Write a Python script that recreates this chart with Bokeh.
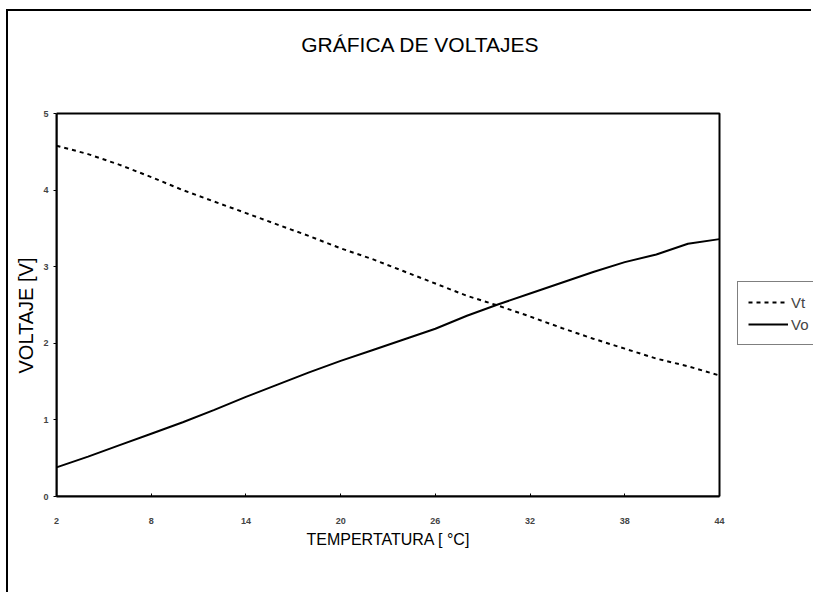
from bokeh.plotting import figure
from bokeh.models import Legend, LegendItem, FixedTicker, Range1d, BoxAnnotation, Title, Label
from bokeh.embed import file_html
from bokeh.resources import INLINE

# ---- data ----
temperatura = [2, 4, 6, 8, 10, 12, 14, 16, 18, 20, 22, 24, 26, 28, 30, 32, 34, 36, 38, 40, 42, 44]
vt = [4.58, 4.47, 4.33, 4.17, 4.00, 3.85, 3.70, 3.55, 3.40, 3.24, 3.10, 2.94,
      2.78, 2.62, 2.49, 2.35, 2.20, 2.06, 1.93, 1.80, 1.70, 1.58]
vo = [0.38, 0.52, 0.67, 0.82, 0.97, 1.13, 1.30, 1.46, 1.62, 1.77, 1.91, 2.05,
      2.19, 2.36, 2.51, 2.65, 2.79, 2.93, 3.06, 3.16, 3.30, 3.36]
x_ticks = [2, 8, 14, 20, 26, 32, 38, 44]
y_ticks = [0, 1, 2, 3, 4, 5]
title_text = "GRÁFICA DE VOLTAJES"
x_title = "TEMPERTATURA [ °C]"
y_title = "VOLTAJE [V]"

FONT = "Liberation Sans"

# ---- layout (pixels) ----
W, H = 805, 583
LEFT, BOTTOM = 48, 98
PLOT_W, PLOT_H = 663, 383      # size of the data box (2..44 x 0..5)
frame_w = W - LEFT             # drawing area runs on to the right and top edges
frame_h = H - BOTTOM
x0, x1 = x_ticks[0], x_ticks[-1]
y0, y1 = y_ticks[0], y_ticks[-1]
x_end = x0 + (x1 - x0) * frame_w / PLOT_W
y_end = y0 + (y1 - y0) * frame_h / PLOT_H

p = figure(width=W, height=H, output_backend="svg", toolbar_location=None,
           x_range=Range1d(x0, x_end), y_range=Range1d(y0, y_end),
           min_border_left=LEFT, min_border_right=0, min_border_top=0, min_border_bottom=BOTTOM)
p.styles = {"border-top": "2px solid black", "border-left": "2px solid black",
            "margin-top": "9px", "margin-left": "6px"}

p.background_fill_color = "white"
p.border_fill_color = "white"
p.outline_line_color = None
p.xgrid.visible = False
p.ygrid.visible = False

# plot-area box
p.add_layout(BoxAnnotation(left=x0, right=x1, bottom=y0, top=y1,
                           fill_color=None, fill_alpha=0,
                           line_color="black", line_alpha=1, line_width=2))

r_vt = p.line(temperatura, vt, line_color="black", line_width=2, line_dash="4 4")
r_vo = p.line(temperatura, vo, line_color="black", line_width=2)

# chart title
p.add_layout(Label(x=364, y=PLOT_H + 69, x_units="screen", y_units="screen", text=title_text,
                   text_font=FONT, text_font_size="21px", text_align="center",
                   text_baseline="alphabetic", text_color="black"))

xa = p.xaxis[0]
xa.ticker = FixedTicker(ticks=x_ticks)
xa.bounds = (x0, x1)
xa.minor_tick_line_color = None
xa.major_tick_in = 3
xa.major_tick_out = 0
xa.axis_line_width = 2
xa.major_label_text_font = FONT
xa.major_label_text_font_size = "9px"
xa.major_label_text_font_style = "bold"
xa.major_label_standoff = 21

# x-axis title, centred under the data box
p.add_layout(Title(text=x_title, align="left", offset=250, standoff=4, vertical_align="bottom",
                   text_font=FONT, text_font_size="16px", text_font_style="normal",
                   text_color="black"), "below")

ya = p.yaxis[0]
ya.ticker = FixedTicker(ticks=y_ticks)
ya.bounds = (y0, y1)
ya.minor_tick_line_color = None
ya.major_tick_in = 0
ya.major_tick_out = 3
ya.axis_line_width = 2
ya.major_label_text_font = FONT
ya.major_label_text_font_size = "9px"
ya.major_label_text_font_style = "bold"
ya.major_label_standoff = 5

# y-axis title, centred beside the data box
p.add_layout(Title(text=y_title, align="left", offset=123, standoff=8, vertical_align="bottom",
                   text_font=FONT, text_font_size="20px", text_font_style="normal",
                   text_color="black"), "left")

legend = Legend(items=[LegendItem(label="Vt", renderers=[r_vt]),
                       LegendItem(label="Vo", renderers=[r_vo])],
                location=(681, 151))
legend.border_line_color = "black"
legend.border_line_width = 1
legend.background_fill_color = "white"
legend.background_fill_alpha = 1
legend.label_text_font = FONT
legend.label_text_font_size = "15px"
legend.glyph_width = 40
legend.padding = 10
legend.spacing = 2
legend.label_standoff = 3
legend.margin = 0
p.add_layout(legend)

open("out.html", "w").write(file_html(p, INLINE))
